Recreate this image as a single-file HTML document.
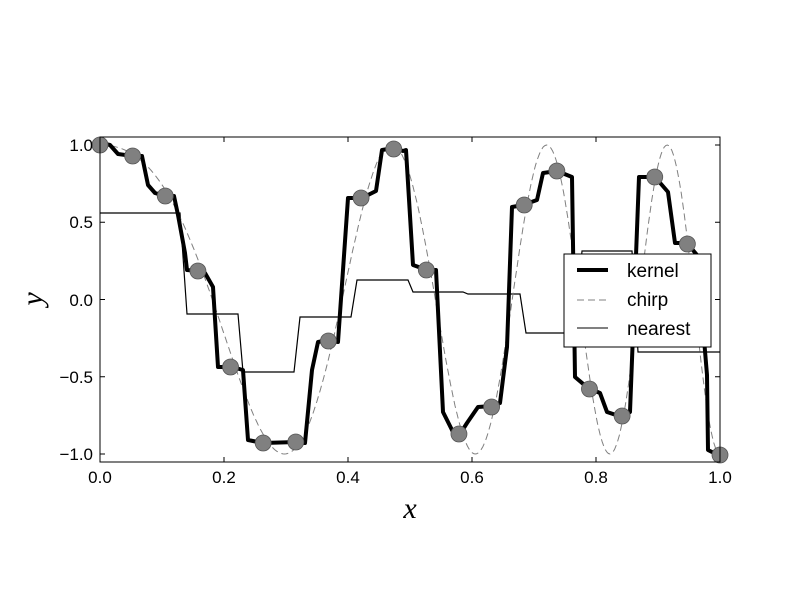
<!DOCTYPE html>
<html><head><meta charset="utf-8"><style>body{margin:0;background:#fff}svg{display:block}</style></head><body>
<svg id="s" width="800" height="600" xmlns="http://www.w3.org/2000/svg" font-family="Liberation Sans, sans-serif">
<rect width="800" height="600" fill="#fff"/>
<g id="plot"></g>
<rect x="100" y="137" width="620" height="325" fill="none" stroke="#000" stroke-width="1"/>
<g font-size="17" text-anchor="middle">
<text x="100" y="483">0.0</text><text x="224" y="483">0.2</text><text x="348" y="483">0.4</text><text x="472" y="483">0.6</text><text x="596" y="483">0.8</text><text x="720" y="483">1.0</text>
</g>
<g font-size="17" text-anchor="end">
<text x="93" y="151">1.0</text><text x="93" y="228">0.5</text><text x="93" y="306">0.0</text><text x="93" y="383">−0.5</text><text x="93" y="460">−1.0</text>
</g>
<text x="410" y="518" font-family="Liberation Serif, serif" font-style="italic" font-size="30" text-anchor="middle">x</text>
<text transform="translate(42,299) rotate(-90)" font-family="Liberation Serif, serif" font-style="italic" font-size="30" text-anchor="middle">y</text>
<rect x="564" y="254" width="147" height="93" fill="#fff" stroke="#000" stroke-width="1"/>
<line x1="577" y1="270" x2="608" y2="270" stroke="#000" stroke-width="4"/>
<line x1="577" y1="300" x2="608" y2="300" stroke="#808080" stroke-width="1" stroke-dasharray="7,4"/>
<line x1="577" y1="328" x2="608" y2="328" stroke="#000" stroke-width="1"/>
<g font-size="19"><text x="627" y="277">kernel</text><text x="627" y="306">chirp</text><text x="627" y="335">nearest</text></g>
</svg>
<script>
var g=document.getElementById('plot'),NS='http://www.w3.org/2000/svg';
function el(t,a){var e=document.createElementNS(NS,t);for(var k in a)e.setAttribute(k,a[k]);g.appendChild(e);return e;}
[0,.2,.4,.6,.8,1].forEach(function(v){var x=100+620*v;el('line',{x1:x,y1:462,x2:x,y2:457,stroke:'#000'});el('line',{x1:x,y1:137,x2:x,y2:142,stroke:'#000'});});
[1,.5,0,-.5,-1].forEach(function(v){var y=299.5-154.5*v;el('line',{x1:100,y1:y,x2:105,y2:y,stroke:'#000'});el('line',{x1:720,y1:y,x2:715,y2:y,stroke:'#000'});});
el('polyline',{points:'100,213 180,213 187,314 238,314 243,372 294,372 300,317 351,317 357,280 408,280 413,292 463,292 468,294 520,294 526,333 575,333 582,251 632,251 638,352 720,352',fill:'none',stroke:'#000','stroke-width':1.2});
var p=[];for(var i=0;i<=400;i++){var x=i/400,ph=0.91*x+2.59*x*x;p.push((100+620*x).toFixed(1)+','+(299.5-154.5*Math.cos(2*Math.PI*ph)).toFixed(1));}
el('polyline',{points:p.join(' '),fill:'none',stroke:'#808080','stroke-width':1,'stroke-dasharray':'7,4'});
el('polyline',{points:'101,143 110,145 118,154 133,156 142,156 148,185 155,193 165,196 174,196 178,215 185,253 187,270 198,271 205,273 213,287 218,367 232,367 243,370 248,440 263,443 297,442 305,443 312,370 318,342 328,340 338,342 348,198 362,198 376,191 382,150 394,148 403,151 406,150 413,265 427,270 436,270 443,412 453,432 460,434 467,423 478,407 492,406 500,403 507,347 512,207 523,205 537,200 543,173 557,171 572,177 575,377 588,388 600,393 607,412 622,417 630,412 639,177 655,177 668,192 675,243 687,243 697,255 707,375 708,450 718,455',fill:'none',stroke:'#000','stroke-width':4,'stroke-linejoin':'round'});
var cy=[145,156,196,271,367,443,442,341,198,149,270,434,407,205,171,389,416,177,244,455];
cy.forEach(function(y,k){el('circle',{cx:100+620*k/19,cy:y,r:8,fill:'#808080',stroke:'#555','stroke-width':0.8});});
</script>
</body></html>
